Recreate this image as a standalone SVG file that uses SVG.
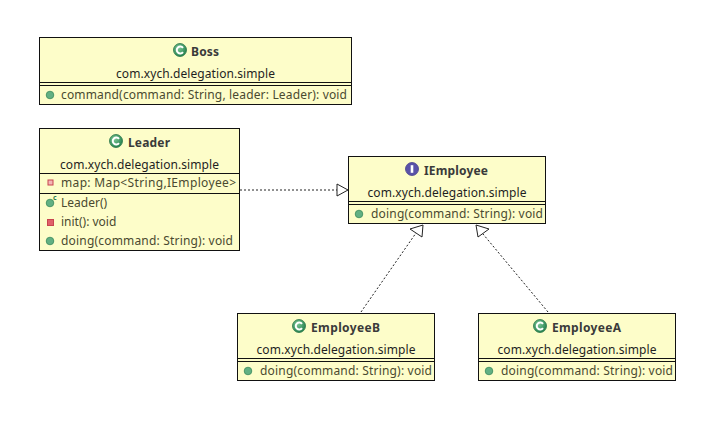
<svg xmlns="http://www.w3.org/2000/svg" width="728" height="432" viewBox="0 0 728 432">
<defs>
<radialGradient id="gc" cx="0.4" cy="0.35" r="0.7"><stop offset="0" stop-color="#7cc796"/><stop offset="1" stop-color="#1f7d4a"/></radialGradient>
<g id="cicon"><circle r="6.500" fill="url(#gc)" stroke="#2a7548" stroke-width="0.8"/><path d="M3 -2.200 A3.500 3.500 0 1 0 3 2.200" fill="none" stroke="#fff" stroke-width="2"/></g>
<g id="iicon"><circle r="6.500" fill="#5a52a8" stroke="#463f8c" stroke-width="0.8"/><rect x="-1.300" y="-3.800" width="2.600" height="7.600" fill="#fff"/></g>
<circle id="pub" r="3.800" fill="#62b083" stroke="#3a8a5c" stroke-width="0.8"/>
</defs>
<style>
text{font-family:"Noto Sans","Liberation Sans",sans-serif;font-size:12px;fill:#2f2f2f}
.t{font-weight:700;fill:#3a3a3a}
.p{fill:#1f1f1f}
.m{fill:#4a4a30}
.b{fill:#fdfdc9;stroke:#111;stroke-width:1}
.l{stroke:#111;stroke-width:1;fill:none}
.d{stroke:#222;stroke-width:1;fill:none;stroke-dasharray:2 2}
.h{stroke:#222;stroke-width:1;fill:#fff}
</style>
<rect width="728" height="432" fill="#fff"/>
<g id="connectors">
<path class="d" d="M240 190H337"/>
<path class="h" d="M337 184L348 190L337 196Z"/>
<path class="d" d="M361 312L416 233"/>
<path class="h" d="M423 225L422 237L410 229Z"/>
<path class="d" d="M548 312L483 234"/>
<path class="h" d="M476 225L489 229L478 237Z"/>
</g>
<g id="boss">
<rect class="b" x="39.500" y="37.500" width="312" height="67"/>
<path class="l" d="M40 82.500H351M40 85.500H351"/>
<use href="#cicon" x="180" y="50"/>
<text class="t" x="191" y="56" textLength="28">Boss</text>
<text class="p" x="195.500" y="78" text-anchor="middle" textLength="159">com.xych.delegation.simple</text>
<use href="#pub" x="50" y="95"/>
<text class="m" x="61" y="99" textLength="286">command(command: String, leader: Leader): void</text>
</g>
<g id="leader">
<rect class="b" x="39.500" y="128.500" width="200" height="122"/>
<path class="l" d="M40 173.500H239M40 193.500H239"/>
<use href="#cicon" x="116" y="141"/>
<text class="t" x="128" y="147" textLength="42">Leader</text>
<text class="p" x="139.500" y="169" text-anchor="middle" textLength="159">com.xych.delegation.simple</text>
<rect x="48" y="180" width="5" height="5" fill="#f3b6b6" stroke="#c8454f"/>
<text class="m" x="61" y="187" textLength="175">map: Map&lt;String,IEmployee&gt;</text>
<use href="#pub" x="50" y="203"/>
<text x="53" y="200" style="font-size:7px;font-weight:700;fill:#2f7d50">c</text>
<text class="m" x="61" y="207">Leader()</text>
<rect x="47.500" y="219.500" width="6" height="6" fill="#e0606a" stroke="#c8454f"/>
<text class="m" x="61" y="226">init(): void</text>
<use href="#pub" x="50" y="241"/>
<text class="m" x="61" y="245" textLength="172">doing(command: String): void</text>
</g>
<g id="iemployee">
<rect class="b" x="348.500" y="156.500" width="197" height="67"/>
<path class="l" d="M349 201.500H545M349 204.500H545"/>
<use href="#iicon" x="412" y="169"/>
<text class="t" x="424" y="175" textLength="64">IEmployee</text>
<text class="p" x="447" y="197" text-anchor="middle" textLength="159">com.xych.delegation.simple</text>
<use href="#pub" x="359" y="214"/>
<text class="m" x="371" y="218" textLength="172">doing(command: String): void</text>
</g>
<g id="employeeB">
<rect class="b" x="237.500" y="313.500" width="197" height="67"/>
<path class="l" d="M238 358.500H434M238 361.500H434"/>
<use href="#cicon" x="299" y="326"/>
<text class="t" x="311" y="332" textLength="69">EmployeeB</text>
<text class="p" x="336" y="354" text-anchor="middle" textLength="159">com.xych.delegation.simple</text>
<use href="#pub" x="248" y="371"/>
<text class="m" x="260" y="375" textLength="172">doing(command: String): void</text>
</g>
<g id="employeeA">
<rect class="b" x="478.500" y="313.500" width="197" height="67"/>
<path class="l" d="M479 358.500H675M479 361.500H675"/>
<use href="#cicon" x="540" y="326"/>
<text class="t" x="552" y="332" textLength="69">EmployeeA</text>
<text class="p" x="577" y="354" text-anchor="middle" textLength="159">com.xych.delegation.simple</text>
<use href="#pub" x="489" y="371"/>
<text class="m" x="501" y="375" textLength="172">doing(command: String): void</text>
</g>
</svg>
